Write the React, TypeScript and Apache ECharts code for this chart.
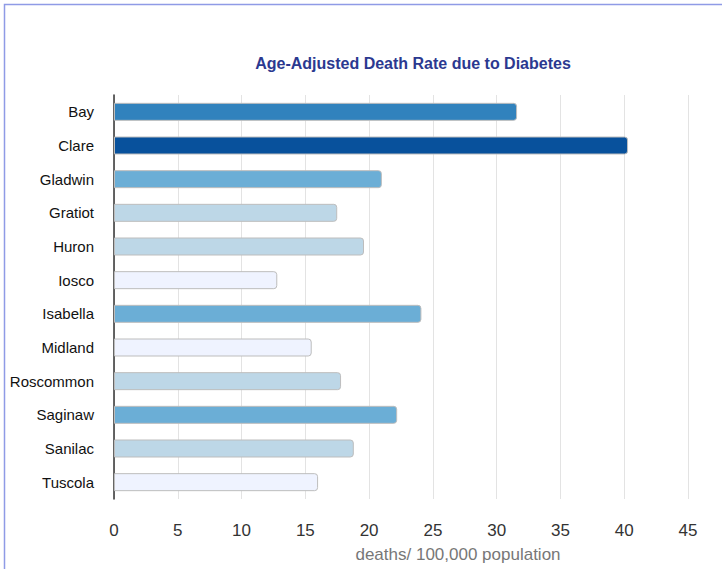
import React, { useEffect, useRef } from "react";
import * as echarts from "echarts";

const counties = ["Bay", "Clare", "Gladwin", "Gratiot", "Huron", "Iosco", "Isabella", "Midland", "Roscommon", "Saginaw", "Sanilac", "Tuscola"];
const rates = [31.6, 40.3, 21.0, 17.5, 19.6, 12.8, 24.1, 15.5, 17.8, 22.2, 18.8, 16.0];
const colorClass = [3, 4, 2, 1, 1, 0, 2, 0, 1, 2, 1, 0];
const palette = ["#eff3ff", "#bdd7e7", "#6baed6", "#3182bd", "#08519c"];

export default function App() {
  const ref = useRef<HTMLDivElement>(null);
  useEffect(() => {
    document.body.style.margin = "0";
    const chart = echarts.init(ref.current!, null, { renderer: "svg" });
    chart.setOption({
      animation: false,
      textStyle: { fontFamily: "Liberation Sans, Arial, sans-serif" },
      title: {
        text: "Age-Adjusted Death Rate due to Diabetes",
        left: 408,
        top: 50,
        textAlign: "center",
        textStyle: { fontSize: 16, fontWeight: "bold", color: "#2b3990", fontFamily: "Liberation Sans, Arial, sans-serif" },
      },
      graphic: [
        {
          type: "rect",
          shape: { x: 4.5, y: 4.5, width: 900, height: 900 },
          style: { fill: "none", stroke: "#8f9be6", lineWidth: 1.5 },
          silent: true,
        },
      ],
      grid: { left: 114, right: 34, top: 95, bottom: 70, containLabel: false },
      xAxis: {
        type: "value",
        min: 0,
        max: 45,
        interval: 5,
        position: "bottom",
        axisLine: { show: false },
        axisTick: { show: false },
        splitLine: { show: true, lineStyle: { color: "#e3e3e3", width: 1 } },
        axisLabel: { fontSize: 17, color: "#333", margin: 23 },
        name: "deaths/ 100,000 population",
        nameLocation: "middle",
        nameGap: 47,
        nameTextStyle: { fontSize: 17, color: "#777", padding: [0, 0, 0, 114] },
      },
      yAxis: {
        type: "category",
        data: counties,
        inverse: true,
        axisLine: { show: true, lineStyle: { color: "#333", width: 1.5 } },
        axisTick: { show: false },
        axisLabel: { fontSize: 15, color: "#111", margin: 20 },
      },
      series: [
        {
          type: "bar",
          barWidth: 18,
          data: rates.map((v, i) => ({
            value: v,
            itemStyle: { color: palette[colorClass[i]] },
          })),
          itemStyle: { borderRadius: [0, 3, 3, 0], borderColor: "#bdbdbd", borderWidth: 1 },
        },
      ],
    });
    return () => chart.dispose();
  }, []);
  return <div ref={ref} style={{ width: 722, height: 569 }} />;
}
